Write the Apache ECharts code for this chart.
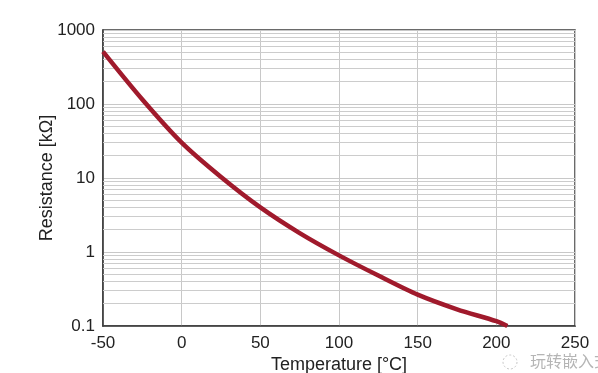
<!DOCTYPE html>
<html>
<head>
<meta charset="utf-8">
<script src="https://cdn.jsdelivr.net/npm/echarts@6/dist/echarts.min.js"></script>
<style>
html,body{margin:0;padding:0;background:#fff;}
#chart{width:598px;height:373px;}
</style>
</head>
<body>
<div id="chart"></div>
<script>
// Temperature (°C) and resistance (kΩ)
const temperatures = [-50, -25, 0, 25, 50, 75, 100, 125, 150, 175, 200, 207];
const resistances  = [510, 115, 30, 10.3, 4.0, 1.8, 0.9, 0.48, 0.265, 0.168, 0.116, 0.1];
const xTicks = [-50, 0, 50, 100, 150, 200, 250];
const yDecades = [0.1, 1, 10, 100, 1000];
const minorMultipliers = [2, 3, 4, 5, 6, 7, 8, 9];

const minorLines = [];
for (let i = 0; i < yDecades.length - 1; i++) {
  for (const m of minorMultipliers) minorLines.push({ yAxis: +(yDecades[i] * m).toPrecision(3) });
}

const chart = echarts.init(document.getElementById('chart'));
const font = 'Liberation Sans, Arial, Helvetica, sans-serif';
chart.setOption({
  animation: false,
  backgroundColor: '#fff',
  grid: { left: 103, right: 23, top: 30, bottom: 47, show: true, borderColor: '#3a3a3a', borderWidth: 1.5, backgroundColor: '#fff',
          containLabel: false, outerBoundsMode: 'none' },
  xAxis: {
    type: 'value', min: xTicks[0], max: xTicks[xTicks.length - 1], interval: 50,
    name: 'Temperature [°C]', nameLocation: 'middle', nameGap: 30, nameMoveOverlap: false,
    nameTextStyle: { fontFamily: font, fontSize: 18, color: '#222' },
    axisLine: { show: true, onZero: false, lineStyle: { color: '#3a3a3a', width: 1.5 } },
    axisTick: { show: false },
    axisLabel: { fontFamily: font, fontSize: 17, color: '#222', margin: 9 },
    splitLine: { show: true, lineStyle: { color: '#c8c8c8', width: 1 } }
  },
  yAxis: {
    type: 'log', logBase: 10, min: yDecades[0], max: yDecades[yDecades.length - 1],
    name: 'Resistance [kΩ]', nameLocation: 'middle', nameGap: 47, nameRotate: 90, nameMoveOverlap: false,
    nameTextStyle: { fontFamily: font, fontSize: 18, color: '#222' },
    axisLine: { show: true, onZero: false, lineStyle: { color: '#3a3a3a', width: 1.5 } },
    axisTick: { show: false },
    axisLabel: { fontFamily: font, fontSize: 17, color: '#222', margin: 8,
      formatter: v => String(+v.toPrecision(3)) },
    splitLine: { show: true, lineStyle: { color: '#c8c8c8', width: 1 } }
  },
  series: [
    {
      type: 'line', data: [], silent: true, z: 1,
      markLine: { silent: true, symbol: 'none', z: 1, label: { show: false },
        lineStyle: { color: '#cccccc', width: 1, type: 'solid' }, data: minorLines }
    },
    {
      type: 'line', smooth: 0.3, symbol: 'none', clip: true, z: 10,
      data: temperatures.map((t, i) => [t, resistances[i]]),
      lineStyle: { color: '#a01a2c', width: 4.5 }
    }
  ],
  graphic: [
    { type: 'circle', shape: { cx: 510, cy: 362, r: 7 }, style: { fill: 'none', stroke: '#c8c8c8', lineWidth: 1, lineDash: [2, 2] } },
    { type: 'text', left: 530, top: 353, style: { text: '玩转嵌入式', fill: '#b5b5b5', font: '16px "Noto Sans CJK SC"' } }
  ]
});
</script>
</body>
</html>
